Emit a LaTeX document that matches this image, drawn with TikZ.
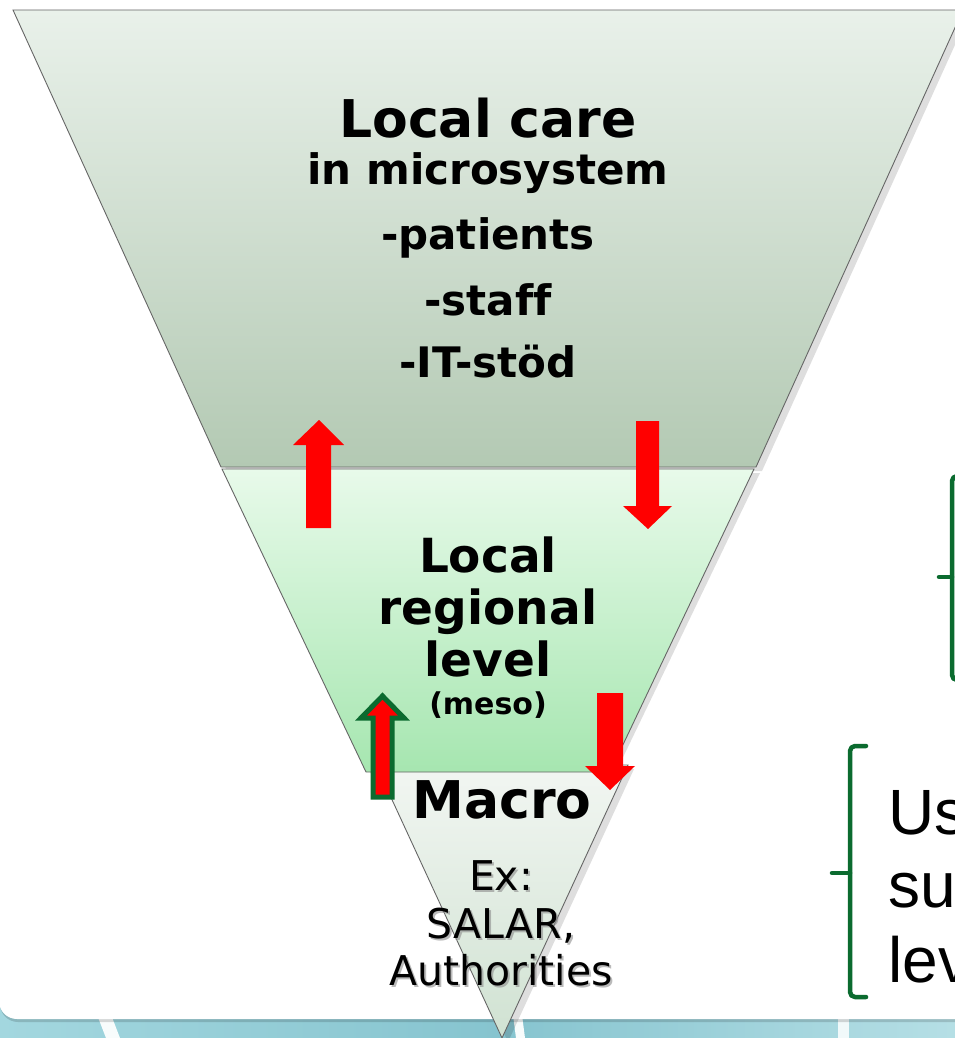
\documentclass[tikz,border=0pt]{standalone}
\usepackage{fontspec}
\setmainfont[Ligatures=NoCommon]{DejaVu Sans}
\newfontfamily\arialf{Liberation Sans}
\definecolor{brgreen}{HTML}{0B6B2F}
\definecolor{topA}{HTML}{E9F1EA}
\definecolor{topB}{HTML}{B3C9B3}
\definecolor{midA}{HTML}{E8FAEA}
\definecolor{midB}{HTML}{A6E6B0}
\definecolor{macA}{HTML}{F2F6F2}
\definecolor{macB}{HTML}{D0E2D2}
\definecolor{stripA}{HTML}{A3D7DF}
\definecolor{stripB}{HTML}{86C4CF}
\begin{document}
\begin{tikzpicture}[x=1pt,y=-1pt]
\tikzset{
  band/.style={draw=black!60, line width=0.9pt},
  bandshadow/.style={fill=black, opacity=0.13},
  redarrow/.style={fill=red, draw=none},
  bracket/.style={draw=brgreen, line width=4.5pt, line cap=round, line join=round, rounded corners=5pt},
  bt/.style={anchor=base, inner sep=0pt, font=#1},
  rt/.style={anchor=base, inner sep=0pt},
}
\useasboundingbox (0,0) rectangle (955,1038);
\clip (0,0) rectangle (955,1038);
% bottom strip of the slide
\shade[left color=stripA, right color=stripB] (0,1005) rectangle (500,1038);
\shade[left color=stripB, right color=stripA!80!white] (500,1005) rectangle (955,1038);
\fill[white!92!stripA] (96,1012) -- (110,1012) -- (120,1038) -- (106,1038) -- cycle;
\fill[white!92!stripA] (513,1015) -- (522,1015) -- (525,1038) -- (516,1038) -- cycle;
\fill[white!85!stripA] (838,1012) -- (849,1012) -- (849,1038) -- (838,1038) -- cycle;
% white slide panel
\fill[black, opacity=0.15, rounded corners=18pt] (0,-30) rectangle (1000,1022);
\fill[white, rounded corners=18pt] (-1,-30) rectangle (1000,1019);
% funnel shadows
\fill[bandshadow] (19,14) -- (969,14) -- (762,471) -- (227,471) -- cycle;
\fill[bandshadow] (228,473) -- (760,473) -- (614,776) -- (372,776) -- cycle;
\fill[bandshadow] (382,769) -- (634,769) -- (508,1042) -- cycle;
% funnel bands
\shade[band, top color=macA, bottom color=macB] (376,765) -- (628,765) -- (502,1038) -- cycle;
\shade[band, top color=midA, bottom color=midB] (222,469) -- (754,469) -- (610,772) -- (366,772) -- cycle;
\shade[band, top color=topA, bottom color=topB] (13,10) -- (963,10) -- (756,467) -- (221,467) -- cycle;
% top band text
\node[bt={\bfseries\fontsize{52}{60}\selectfont}] (t1) at (488,137) {Local care};
\node[bt={\bfseries\fontsize{42}{50}\selectfont}] (t2) at (488,184) {in microsystem};
\node[bt={\bfseries\fontsize{42}{50}\selectfont}] (t3) at (488,249) {-patients};
\node[bt={\bfseries\fontsize{42}{50}\selectfont}] (t4) at (488,315) {-staff};
\node[bt={\bfseries\fontsize{42}{50}\selectfont}] (t5) at (488,377) {-IT-stöd};
% middle band text
\node[bt={\bfseries\fontsize{47}{54}\selectfont}] (m1) at (488,572) {Local};
\node[bt={\bfseries\fontsize{47}{54}\selectfont}] (m2) at (488,624) {regional};
\node[bt={\bfseries\fontsize{47}{54}\selectfont}] (m3) at (488,676) {level};
\node[bt={\bfseries\fontsize{30}{36}\selectfont}] (m4) at (488,714) {(meso)};
% macro text
\node[bt={\bfseries\fontsize{52}{60}\selectfont}] (c1) at (502,818) {Macro};
\begin{scope}[every node/.style={bt={\fontsize{41}{48}\selectfont}}]
\node[text=black!45, opacity=0.6] (e1s) at (503,892) {Ex:};
\node[text=black!45, opacity=0.6] (e2s) at (503,940) {SALAR,};
\node[text=black!45, opacity=0.6] (e3s) at (503,987) {Authorities};
\node (e1) at (501,890) {Ex:};
\node (e2) at (501,938) {SALAR,};
\node (e3) at (501,985) {Authorities};
\end{scope}
% arrows
\fill[redarrow] (306,528) -- (306,445) -- (293,445) -- (319,420) -- (344,445) -- (331,445) -- (331,528) -- cycle;
\fill[redarrow] (636,421) -- (659,421) -- (659,506) -- (672,506) -- (648,529) -- (623,506) -- (636,506) -- cycle;
\fill[redarrow] (597,693) -- (623,693) -- (623,766) -- (635,766) -- (610,790) -- (585,766) -- (597,766) -- cycle;
\filldraw[fill=red, draw=brgreen, line width=5pt, line join=miter, miter limit=10]
  (373,797) -- (373,718) -- (361,718) -- (382.5,696) -- (404,718) -- (392,718) -- (392,797) -- cycle;
% right side brackets
\draw[bracket] (966,476) -- (952,476) -- (952,680) -- (966,680);
\draw[bracket, rounded corners=0pt] (939,577) -- (952,577);
\draw[bracket] (866,746) -- (850,746) -- (850,997) -- (866,997);
\draw[bracket, rounded corners=0pt] (832,873) -- (850,873);
% right side text (cut off at the edge, as in the reference)
\node[rt, font=\arialf\fontsize{64}{73}\selectfont] (u1) at (888,834) [anchor=base west] {Us};
\node[rt, font=\arialf\fontsize{64}{73}\selectfont] (u2) at (888,907) [anchor=base west] {su};
\node[rt, font=\arialf\fontsize{64}{73}\selectfont] (u3) at (888,982) [anchor=base west] {lev};
\end{tikzpicture}
\end{document}
